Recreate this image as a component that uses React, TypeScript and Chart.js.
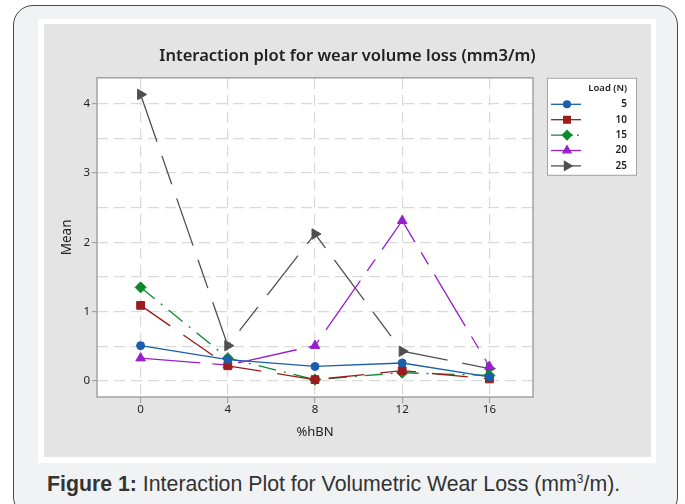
import React, { useEffect, useRef } from 'react';
import { Chart, registerables } from 'chart.js';
import { drawPoint } from 'chart.js/helpers';

Chart.register(...registerables);

// ---- data ----
const HBN = [0, 4, 8, 12, 16];
const LOADS = ['5', '10', '15', '20', '25'];
const LOAD_5 = [0.51, 0.31, 0.21, 0.26, 0.06];
const LOAD_10 = [1.09, 0.22, 0.02, 0.15, 0.03];
const LOAD_15 = [1.35, 0.33, 0.02, 0.12, 0.08];
const LOAD_20 = [0.33, 0.23, 0.51, 2.31, 0.21];
const LOAD_25 = [4.13, 0.51, 2.12, 0.43, 0.18];
const SERIES = [LOAD_5, LOAD_10, LOAD_15, LOAD_20, LOAD_25];
const X_TICKS = [0, 4, 8, 12, 16];
const Y_TICKS = [0, 0.5, 1, 1.5, 2, 2.5, 3, 3.5, 4];

// ---- styles ----
const COLORS = ['#1a5eac', '#9c1c1c', '#0b8a2c', '#9a1fcc', '#4f4f4f'];
const POINT_STYLES = ['circle', 'rect', 'rectRot', 'triangle', 'triangle'];
const POINT_ROT = [0, 0, 0, 0, 90];
const POINT_RADIUS = [4, 5.5, 5.5, 5.5, 6];
const DASHES = [[], [36, 16], [18, 8, 2, 8], [60, 12, 14, 12], [50, 15, 30, 15]];
const FONT = '"Noto Sans", "DejaVu Sans", sans-serif';

const bgPlugin = {
  id: 'bgFrame',
  beforeDraw(chart: any) {
    const { ctx, width, height, chartArea } = chart;
    ctx.save();
    ctx.fillStyle = '#e4e4e4';
    ctx.fillRect(0, 0, width, height);
    ctx.fillStyle = '#ffffff';
    ctx.fillRect(chartArea.left, chartArea.top, chartArea.right - chartArea.left, chartArea.bottom - chartArea.top);
    ctx.restore();
  },
  beforeDatasetsDraw(chart: any) {
    const { ctx, chartArea } = chart;
    ctx.save();
    ctx.strokeStyle = '#a3a3a3';
    ctx.lineWidth = 1.5;
    ctx.strokeRect(chartArea.left, chartArea.top, chartArea.right - chartArea.left, chartArea.bottom - chartArea.top);
    ctx.restore();
  },
};

const legendPlugin = {
  id: 'boxLegend',
  afterDraw(chart: any) {
    const { ctx, chartArea } = chart;
    const x0 = chartArea.right + 14;
    const y0 = chartArea.top;
    const w = 89;
    const h = 97;
    ctx.save();
    ctx.fillStyle = '#ffffff';
    ctx.fillRect(x0, y0, w, h);
    ctx.strokeStyle = '#a3a3a3';
    ctx.lineWidth = 1;
    ctx.strokeRect(x0 + 0.5, y0 + 0.5, w, h);
    ctx.font = `600 9.5px ${FONT}`;
    ctx.fillStyle = '#222';
    ctx.textAlign = 'right';
    ctx.textBaseline = 'middle';
    ctx.fillText('Load (N)', x0 + 80, y0 + 10);
    ctx.font = `600 10px ${FONT}`;
    chart.data.datasets.forEach((ds: any, i: number) => {
      const y = y0 + 26.5 + i * 15.4;
      ctx.strokeStyle = ds.borderColor;
      ctx.lineWidth = 1.3;
      ctx.setLineDash(i === 2 ? [22, 4, 2, 40] : []);
      ctx.beginPath();
      ctx.moveTo(x0 + 4, y);
      ctx.lineTo(x0 + 34, y);
      ctx.stroke();
      ctx.setLineDash([]);
      ctx.fillStyle = ds.pointBackgroundColor;
      ctx.strokeStyle = ds.pointBorderColor;
      drawPoint(ctx, { pointStyle: ds.pointStyle, rotation: ds.pointRotation || 0, radius: ds.pointRadius * 0.85, borderWidth: 1 } as any, x0 + 20, y);
      ctx.fillStyle = '#222';
      ctx.fillText(ds.label, x0 + 80, y);
    });
    ctx.restore();
  },
};

export default function App() {
  const ref = useRef<HTMLCanvasElement | null>(null);

  useEffect(() => {
    if (!ref.current) return;
    const datasets = SERIES.map((vals, i) => ({
      label: LOADS[i],
      data: HBN.map((x, j) => ({ x, y: vals[j] })),
      borderColor: COLORS[i],
      backgroundColor: COLORS[i],
      borderWidth: 1.3,
      borderDash: DASHES[i],
      pointStyle: POINT_STYLES[i],
      pointRotation: POINT_ROT[i],
      pointRadius: POINT_RADIUS[i],
      pointBackgroundColor: COLORS[i],
      pointBorderColor: COLORS[i],
      pointBorderWidth: 1,
      showLine: true,
      tension: 0,
    }));
    const chart = new Chart(ref.current, {
      type: 'scatter',
      data: { datasets } as any,
      plugins: [bgPlugin, legendPlugin],
      options: {
        responsive: false,
        animation: false,
        layout: { padding: 0 },
        plugins: {
          legend: { display: false },
          tooltip: { enabled: false },
          title: {
            display: true,
            text: 'Interaction plot for wear volume loss (mm3/m)',
            color: '#222',
            font: { family: FONT, size: 16.5, weight: '600' },
            padding: { top: 22, bottom: 12 },
          },
        },
        scales: {
          x: {
            type: 'linear',
            min: -2,
            max: 18,
            afterBuildTicks: (axis: any) => {
              axis.ticks = X_TICKS.map((v) => ({ value: v }));
            },
            afterFit: (axis: any) => {
              axis.height = 60;
            },
            ticks: { color: '#222', font: { family: FONT, size: 11.5 }, padding: 0, callback: (v: any) => String(v) },
            grid: { color: '#d9d9d9', lineWidth: 1.2, tickColor: '#a3a3a3', tickLength: 6, tickBorderDash: [] },
            border: { display: false, dash: [11, 6] },
            title: { display: true, text: '%hBN', color: '#222', font: { family: FONT, size: 13 }, padding: { top: 2, bottom: 17 } },
          },
          y: {
            type: 'linear',
            min: -0.23,
            max: 4.37,
            afterBuildTicks: (axis: any) => {
              axis.ticks = Y_TICKS.map((v) => ({ value: v }));
            },
            afterFit: (axis: any) => {
              axis.width = 53;
            },
            ticks: {
              color: '#222',
              font: { family: FONT, size: 11.5 },
              padding: 2,
              callback: (v: any) => (Number.isInteger(v) ? String(v) : ''),
            },
            grid: {
              color: '#d9d9d9',
              lineWidth: 1.2,
              tickLength: 5,
              tickBorderDash: [],
              tickColor: (c: any) => (c.tick && Number.isInteger(c.tick.value) ? '#a3a3a3' : 'rgba(0,0,0,0)'),
            },
            border: { display: false, dash: [11, 6] },
            title: { display: true, text: 'Mean', color: '#222', font: { family: FONT, size: 13.5 }, padding: { top: 15, bottom: 0 } },
          },
          // reserved blank space on the right for the legend box
          legendSpace: {
            type: 'linear',
            position: 'right',
            display: true,
            min: 0,
            max: 1,
            afterBuildTicks: (axis: any) => {
              axis.ticks = [];
            },
            afterFit: (axis: any) => {
              axis.width = 118;
            },
            ticks: { display: false },
            grid: { display: false, drawOnChartArea: false, drawTicks: false },
            border: { display: false },
          },
        },
      } as any,
    });
    return () => chart.destroy();
  }, []);

  return (
    <div style={{ position: 'absolute', left: 0, top: 0, width: 685, height: 504, background: '#ffffff', overflow: 'hidden' }}>
      <div
        style={{
          position: 'absolute',
          left: 13,
          top: 5,
          width: 665,
          height: 512,
          border: '1.5px solid #4a4a4a',
          borderRadius: 20,
          background: '#f1f2f4',
          boxSizing: 'border-box',
        }}
      />
      <div style={{ position: 'absolute', left: 38, top: 19, width: 618, height: 444, background: '#ffffff' }} />
      <div style={{ position: 'absolute', left: 44, top: 24, width: 607, height: 433 }}>
        <canvas ref={ref} width={607} height={433} />
      </div>
      <div
        style={{
          position: 'absolute',
          left: 47,
          top: 471,
          fontFamily: '"Liberation Sans", Arial, sans-serif',
          fontSize: 21.3,
          color: '#333',
          whiteSpace: 'nowrap',
          lineHeight: '26px',
        }}
      >
        <b>Figure 1:</b> Interaction Plot for Volumetric Wear Loss (mm<sup style={{ fontSize: 12, lineHeight: 0 }}>3</sup>/m).
      </div>
    </div>
  );
}
